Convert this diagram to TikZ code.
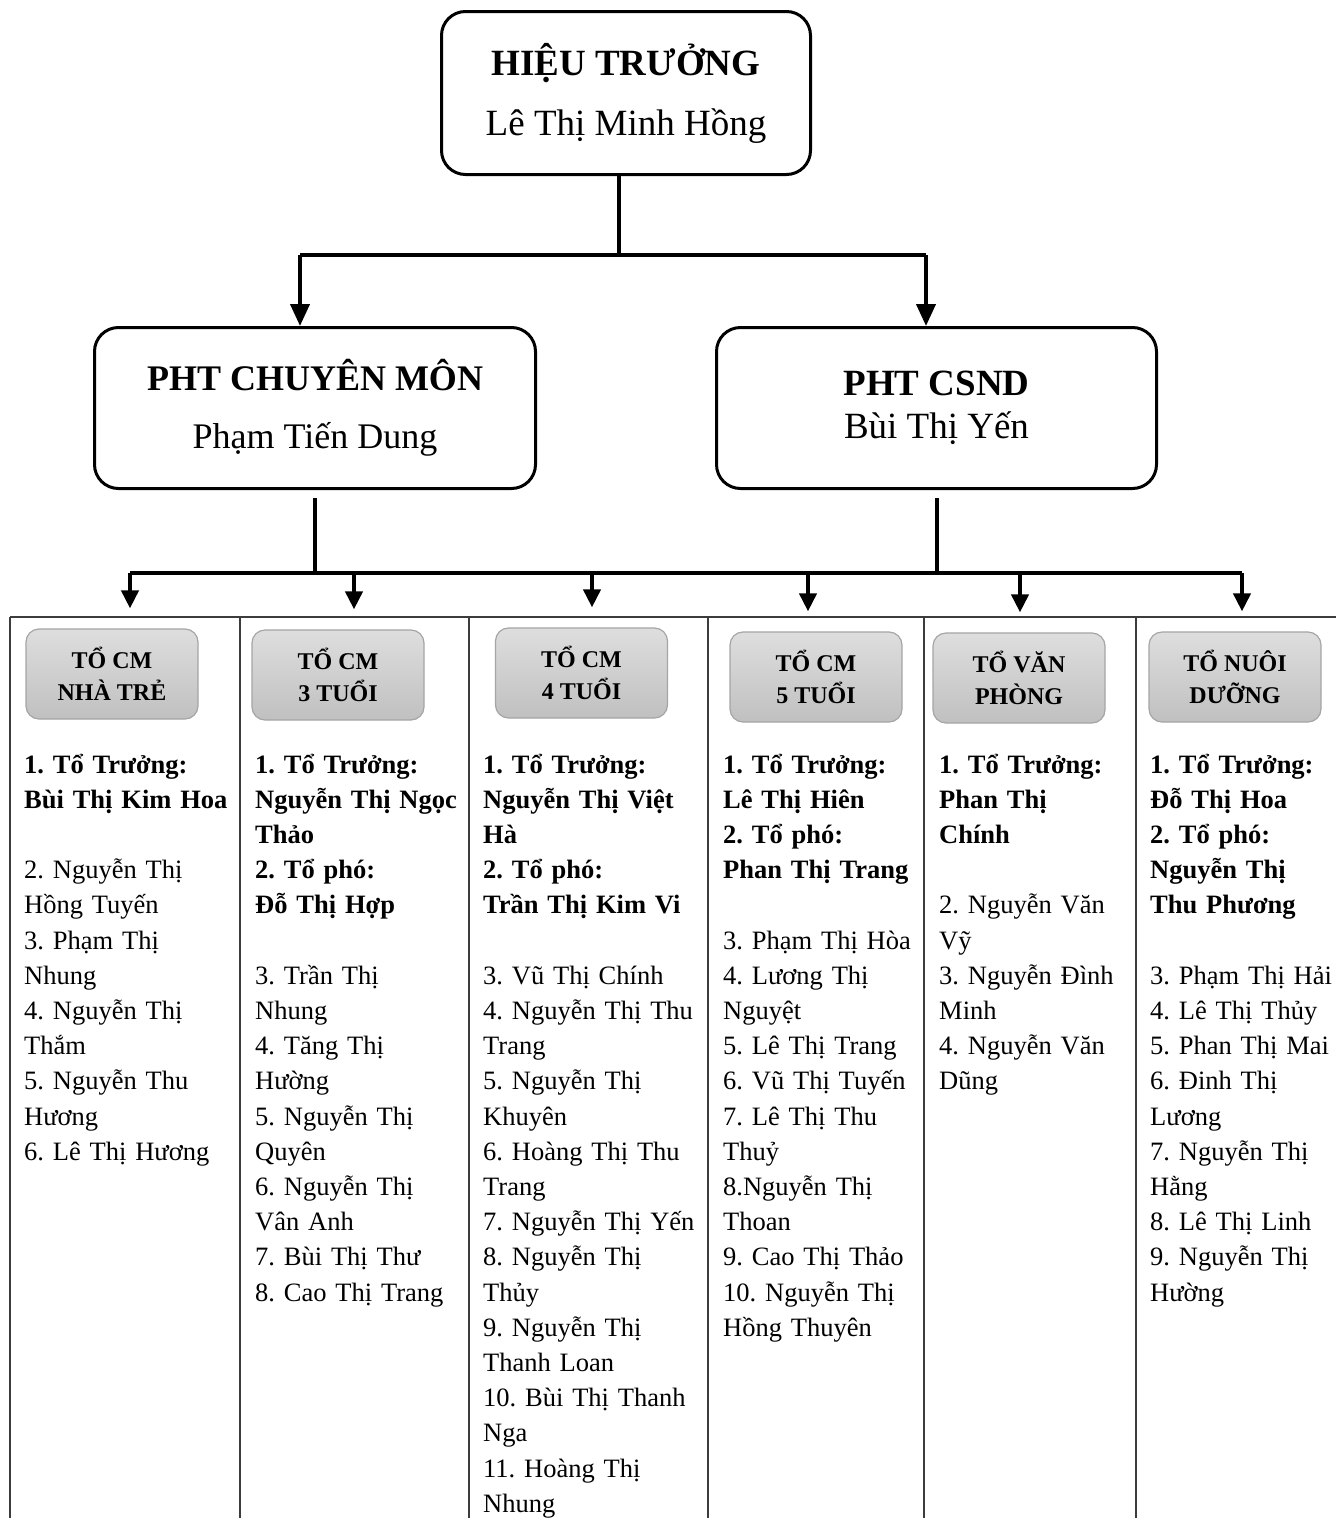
\documentclass[tikz,border=0pt]{standalone}
\usepackage{fontspec}
\setmainfont{Liberation Serif}
\usepackage{tikz}
\usepackage{color}
\usetikzlibrary{arrows.meta}
\frenchspacing

\definecolor{hdrtop}{RGB}{222,222,222}
\definecolor{hdrbot}{RGB}{192,192,192}
\definecolor{hdredge}{RGB}{165,165,165}
\definecolor{rulegray}{RGB}{60,60,60}

\begin{document}
\begin{tikzpicture}[%
      x=1pt, y=-1pt,
      bigbox/.style={draw=black, line width=3pt, rounded corners=24pt, align=center},
      tobox/.style={draw=hdredge, line width=1.2pt, rounded corners=13pt,
        top color=hdrtop, bottom color=hdrbot, minimum width=172pt, minimum height=90pt,
        align=center, font=\fontsize{24}{32}\selectfont\bfseries},
      list/.style={anchor=base west, text width=220pt, align=left, inner sep=0pt,
        font=\fontsize{26.5}{35.2}\selectfont},
      conn/.style={line width=4pt},
      arr/.style={line width=4pt, -{Triangle[length=22pt,width=19pt]}},
      drop/.style={line width=4pt, -{Triangle[length=18pt,width=17pt]}},
      ]
      \useasboundingbox (0,0) rectangle (1336,1518);

      \node[bigbox, minimum width=369pt, minimum height=163pt, font=\fontsize{37}{60}\selectfont]
        (ht) at (626,93) {\textbf{HIỆU TRƯỞNG}\\Lê Thị Minh Hồng};
      \node[bigbox, minimum width=441pt, minimum height=161pt, font=\fontsize{36}{58}\selectfont]
        (pcm) at (315,408) {\textbf{PHT CHUYÊN MÔN}\\Phạm Tiến Dung};
      \node[bigbox, minimum width=440pt, minimum height=161pt, font=\fontsize{37}{43}\selectfont]
        (csnd) at (936.5,408) {\textbf{PHT CSND}\\Bùi Thị Yến};

      % table
      \draw [color=rulegray, line width=1.3pt] (10,617) -- (1336,617);
      \foreach \x in {10,240,469,708,924,1136}
        \draw [color=rulegray, line width=1.3pt] (\x,617) -- (\x,1518);

      \node[tobox] (h1) at (112,674) {TỔ CM\\NHÀ TRẺ};
      \node[tobox] (h2) at (338,675) {TỔ CM\\3 TUỔI};
      \node[tobox] (h3) at (581.5,673) {TỔ CM\\4 TUỔI};
      \node[tobox] (h4) at (816,677) {TỔ CM\\5 TUỔI};
      \node[tobox] (h5) at (1019,678) {TỔ VĂN\\PHÒNG};
      \node[tobox] (h6) at (1235,677) {TỔ NUÔI\\DƯỠNG};

      % top connectors
      \coordinate (jt) at (619,255);
      \coordinate (jl) at (300,255);
      \coordinate (jr) at (926,255);
      \draw[conn] (ht.south -| jt) -- (jt);
      \draw[conn] (jl) -- (jr);
      \draw[arr] (jl) -- (jl |- pcm.north);
      \draw[arr] (jr) -- (jr |- csnd.north);

      % bottom connectors
      \coordinate (b1) at (130,573);
      \coordinate (b2) at (354,573);
      \coordinate (b3) at (592,573);
      \coordinate (b4) at (808,573);
      \coordinate (b5) at (1020,573);
      \coordinate (b6) at (1242,573);
      \draw[conn, shorten <=8pt] (pcm.south) -- (pcm.south |- b1);
      \draw[conn, shorten <=8pt] (csnd.south) -- (csnd.south |- b1);
      \draw[conn] (b1) -- (b6);
      \foreach \i in {1,...,6}
        \draw[drop, shorten >=20pt] (b\i) -- (b\i |- h\i.north);

      \node[list] (l1) at (24,773) {%
        \textbf{1. Tổ Trưởng:}\\\textbf{Bùi Thị Kim Hoa}\\[35.2pt]
        2. Nguyễn Thị\\Hồng Tuyến\\3. Phạm Thị\\Nhung\\4. Nguyễn Thị\\Thắm\\
        5. Nguyễn Thu\\Hương\\6. Lê Thị Hương};
      \node[list] (l2) at (255,773) {%
        \textbf{1. Tổ Trưởng:}\\\textbf{Nguyễn Thị Ngọc}\\\textbf{Thảo}\\
        \textbf{2. Tổ phó:}\\\textbf{Đỗ Thị Hợp}\\[35.2pt]
        3. Trần Thị\\Nhung\\4. Tăng Thị\\Hường\\5. Nguyễn Thị\\Quyên\\
        6. Nguyễn Thị\\Vân Anh\\7. Bùi Thị Thư\\8. Cao Thị Trang};
      \node[list] (l3) at (483,773) {%
        \textbf{1. Tổ Trưởng:}\\\textbf{Nguyễn Thị Việt}\\\textbf{Hà}\\
        \textbf{2. Tổ phó:}\\\textbf{Trần Thị Kim Vi}\\[35.2pt]
        3. Vũ Thị Chính\\4. Nguyễn Thị Thu\\Trang\\5. Nguyễn Thị\\Khuyên\\
        6. Hoàng Thị Thu\\Trang\\7. Nguyễn Thị Yến\\8. Nguyễn Thị\\Thủy\\
        9. Nguyễn Thị\\Thanh Loan\\10. Bùi Thị Thanh\\Nga\\11. Hoàng Thị\\Nhung};
      \node[list] (l4) at (723,773) {%
        \textbf{1. Tổ Trưởng:}\\\textbf{Lê Thị Hiên}\\
        \textbf{2. Tổ phó:}\\\textbf{Phan Thị Trang}\\[35.2pt]
        3. Phạm Thị Hòa\\4. Lương Thị\\Nguyệt\\5. Lê Thị Trang\\6. Vũ Thị Tuyến\\
        7. Lê Thị Thu\\Thuỷ\\8.Nguyễn Thị\\Thoan\\9. Cao Thị Thảo\\
        10. Nguyễn Thị\\Hồng Thuyên};
      \node[list] (l5) at (939,773) {%
        \textbf{1. Tổ Trưởng:}\\\textbf{Phan Thị}\\\textbf{Chính}\\[35.2pt]
        2. Nguyễn Văn\\Vỹ\\3. Nguyễn Đình\\Minh\\4. Nguyễn Văn\\Dũng};
      \node[list] (l6) at (1150,773) {%
        \textbf{1. Tổ Trưởng:}\\\textbf{Đỗ Thị Hoa}\\
        \textbf{2. Tổ phó:}\\\textbf{Nguyễn Thị}\\\textbf{Thu Phương}\\[35.2pt]
        3. Phạm Thị Hải\\4. Lê Thị Thủy\\5. Phan Thị Mai\\6. Đinh Thị\\Lương\\
        7. Nguyễn Thị\\Hằng\\8. Lê Thị Linh\\9. Nguyễn Thị\\Hường};
      \end{tikzpicture}
\end{document}
